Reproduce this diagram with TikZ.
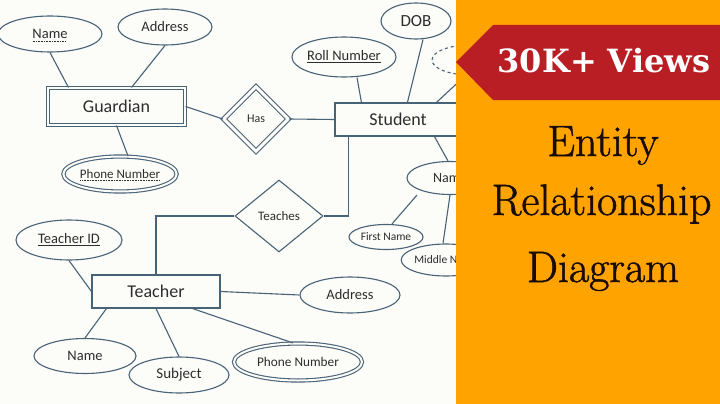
\documentclass[tikz,border=0pt]{standalone}
\usepackage{fontspec}
\setsansfont{Carlito}
\newfontfamily\bannerfont{DejaVu Serif}
\newfontfamily\titlefamily[FakeBold=1.2]{Latin Modern Roman}
\usepackage{tikz}
\usetikzlibrary{positioning}
\usetikzlibrary{shapes.geometric}
\definecolor{paper}{RGB}{252,252,249}
\definecolor{erline}{RGB}{72,98,118}
\definecolor{ink}{RGB}{45,45,45}
\definecolor{panel}{RGB}{254,163,0}
\definecolor{bannerred}{RGB}{184,30,35}
\definecolor{titleink}{RGB}{25,12,4}
\newcommand\erfont[1]{\sffamily\fontsize{#1}{#1}\selectfont}
\newcommand\titlefont{\titlefamily\fontsize{44}{44}\selectfont}
% dotted underline (partial key)
\newcommand\dotunder[1]{\leavevmode\setbox0\hbox{#1}%
  \rlap{\raisebox{-2.6pt}[0pt][0pt]{\hbox to\wd0{\leaders\hbox to 1.6pt{\hss\rule{0.8pt}{0.6pt}\hss}\hfill}}}\box0}

\begin{document}
\begin{tikzpicture}[x=1pt,y=-1pt,
  every node/.style={text=ink},
  entity/.style={draw=erline, line width=1.1pt, rectangle, inner sep=0pt, font=\erfont{18}},
  weakentity/.style={entity, double=paper, double distance=2pt},
  attr/.style={draw=erline, line width=1.1pt, ellipse, inner sep=0pt, font=\erfont{14.5}},
  multiattr/.style={attr, double=paper, double distance=2pt},
  derived/.style={attr, dashed},
  relation/.style={draw=erline, line width=1.1pt, diamond, inner sep=0pt, font=\erfont{13}},
  weakrelation/.style={relation, double=paper, double distance=3pt},
  link/.style={draw=erline, line width=1.1pt}]

  %% page
  \useasboundingbox (0,0) rectangle (720,404);
  \clip (0,0) rectangle (720,404);
  \fill[paper] (0,0) rectangle (720,404);

  % guardian
  \node[weakentity, minimum width=137pt, minimum height=37pt] (guardian) at (116.5,106.5) {Guardian};
  \node[attr, minimum width=104pt, minimum height=36pt] (gname) at (50,34) {\dotunder{Name}};
  \node[attr, minimum width=94pt, minimum height=36pt] (gaddr) at (165,27) {Address};
  \node[multiattr, minimum width=110pt, minimum height=35pt, font=\erfont{13}] (gphone) at (120,174) {\dotunder{Phone Number}};
  \node[weakrelation, minimum width=65pt, minimum height=65pt, font=\erfont{12}] (has) at (256,119) {Has};

  % student
  \node[entity, minimum width=126pt, minimum height=33pt] (student) at (398,119.5) {Student};
  \node[attr, minimum width=100pt, minimum height=40pt] (roll) at (344,57) {\underline{Roll Number}};
  \node[attr, minimum width=70pt, minimum height=36pt, font=\erfont{17}] (dob) at (416,21) {DOB};
  \node[derived, minimum width=76pt, minimum height=30pt] (derv) at (470,60) {};
  \coordinate (hid) at (480,62);
  \node[attr, minimum width=86pt, minimum height=33pt, font=\erfont{14}] (sname) at (450,178) {Name};
  \node[attr, minimum width=74pt, minimum height=25pt, font=\erfont{11.5}] (first) at (386,237) {First Name};
  \node[attr, minimum width=82pt, minimum height=32pt, font=\erfont{11.5}] (middle) at (446,260) {Middle Name};

  % teacher
  \node[relation, minimum width=88pt, minimum height=72pt] (teaches) at (279,216) {Teaches};
  \node[entity, minimum width=128pt, minimum height=33pt] (teacher) at (156,291.5) {Teacher};
  \node[attr, minimum width=106pt, minimum height=40pt] (tid) at (69,240) {\underline{Teacher ID}};
  \node[attr, minimum width=102pt, minimum height=35pt] (tname) at (85,356) {Name};
  \node[attr, minimum width=100pt, minimum height=36pt, font=\erfont{15}] (subject) at (179,375) {Subject};
  \node[attr, minimum width=100pt, minimum height=36pt] (taddr) at (350,295) {Address};
  \node[multiattr, minimum width=128pt, minimum height=37pt, font=\erfont{13.3}] (tphone) at (298,362) {Phone Number};

  % links
  \draw[link] (gname.south) -- ([xshift=21pt]guardian.north west);
  \draw[link] (gaddr.south) -- ([xshift=15pt]guardian.north);
  \draw[link] (guardian.south) -- ([xshift=8pt]gphone.north);
  \draw[link] (guardian.east) -- (has.west);
  \draw[link] (has.east) -- (student.west);
  \draw[link] ([xshift=13pt]roll.south) -- ([xshift=27pt]student.north west);
  \draw[link] ([xshift=7pt]dob.south) -- ([xshift=73pt]student.north west);
  \draw[link] ([xshift=102pt]student.north west) -- (hid);
  \draw[link] ([xshift=100pt]student.south west) -- ([xshift=-2pt]sname.north);
  \draw[link] ([xshift=-33pt]sname.south) -- ([xshift=6pt]first.north);
  \draw[link] (sname.south) -- ([xshift=-3pt]middle.north);
  \draw[link] ([xshift=14pt]student.south west) |- (teaches.east);
  \draw[link] (teaches.west) -| (teacher.north);
  \draw[link] (tid.south) -- (teacher.west);
  \draw[link] ([xshift=15pt]teacher.south west) -- (tname.north);
  \draw[link] (teacher.south) -- (subject.north);
  \draw[link] (teacher.east) -- (taddr.west);
  \draw[link] ([xshift=-28pt]teacher.south east) -- ([xshift=-5pt]tphone.north);

  %% orange panel
  \fill[panel] (456,0) rectangle (720,404);
  \fill[bannerred] (456,62) -- (493,25) -- (720,25) -- (720,100) -- (493,100) -- cycle;
  \node[anchor=base, text=white, font=\bannerfont\bfseries\fontsize{32}{32}\selectfont] (views) at (604,72) {30K+ Views};
  \node[anchor=base, text=titleink, font=\titlefont] (title1) at (603,156) {Entity};
  \node[anchor=base west, text=titleink, font=\titlefont] (title2) at (488,215) {Relationship};
  \node[anchor=base, text=titleink, font=\titlefont] (title3) at (603,282) {Diagram};
\end{tikzpicture}
\end{document}
